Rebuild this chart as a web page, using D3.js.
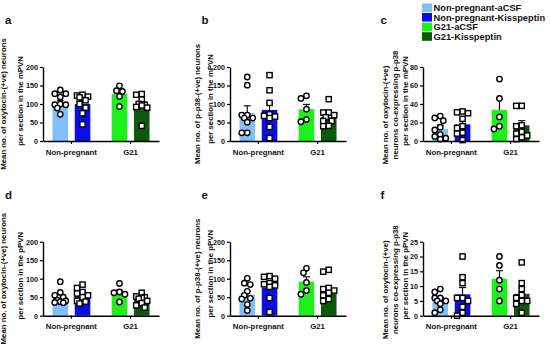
<!DOCTYPE html>
<html>
<head>
<meta charset="utf-8">
<script src="https://cdn.jsdelivr.net/npm/d3@7"></script>
<style>
  body { margin: 0; background: #fff; }
  text { font-family: "Liberation Sans", Arial, sans-serif; font-weight: bold; fill: #111; }
</style>
</head>
<body>
<svg width="550" height="351"></svg>
<script>
// categories
const groups = ["Non-pregnant", "G21"];
const treatments = ["aCSF", "Kisspeptin"];
const seriesNames = ["Non-pregnant-aCSF", "Non-pregnant-Kisspeptin", "G21-aCSF", "G21-Kisspeptin"];
const colors = ["#80c0f8", "#0c0ce8", "#1ef01e", "#0a5a0a"];

// tick labels
const ticks200 = [0, 50, 100, 150, 200];
const ticks80 = [0, 20, 40, 60, 80];
const ticks25 = [0, 5, 10, 15, 20, 25];

// y titles
const titleA = ["Mean no. of oxytocin-(+ve) neurons", "per section in the mPVN"];
const titleB = ["Mean no. of p-p38-(+ve) neurons", "per section in the mPVN"];
const titleC = ["Mean no. of oxytocin-(+ve)", "neurons co-expressing p-p38", "per section in the mPVN"];
const titleD = ["Mean no. of oxytocin-(+ve) neurons", "per section in the pPVN"];
const titleE = ["Mean no. of p-p38-(+ve) neurons", "per section in the pPVN"];
const titleF = ["Mean no. of oxytocin-(+ve)", "neurons co-expressing p-p38", "per section in the pPVN"];

// panel a
const meansA = [103, 100, 127, 98];
const semsA = [7, 9, 9, 9];
const pointsA = [
  [138, 128, 128, 119, 100, 98, 98, 89, 72],
  [125, 123, 120, 118, 110, 100, 90, 75, 45],
  [149, 136, 134, 120, 93],
  [127, 125, 112, 100, 98, 96, 92, 90, 41]
];
// panel b
const meansB = [75, 84, 86, 64];
const semsB = [20, 17, 13, 8];
const pointsB = [
  [173, 151, 70, 70, 62, 62, 51, 22, 22],
  [178, 137, 103, 72, 68, 66, 62, 38, 8],
  [122, 115, 86, 58, 52],
  [113, 77, 77, 70, 64, 54, 54, 41, 40]
];
// panel c
const meansC = [13, 18, 33.5, 17];
const semsC = [4, 6, 12, 5];
const pointsC = [
  [27, 25, 22, 15, 12, 7, 5, 3, 2],
  [32, 31, 30, 24, 16, 14, 9, 8, 1],
  [67, 46, 26, 16, 13],
  [38, 38, 17, 16, 10, 8, 6, 4, 2]
];
// panel d
const meansD = [51, 53, 61, 45];
const semsD = [6, 6, 8, 5];
const pointsD = [
  [92, 63, 55, 50, 42, 40, 38, 36, 35],
  [84, 75, 64, 60, 55, 50, 40, 38, 33],
  [87, 64, 62, 58, 37],
  [62, 52, 50, 48, 46, 40, 34, 28, 22]
];
// panel e
const meansE = [57, 76, 92, 70];
const semsE = [10, 11, 13, 11];
const pointsE = [
  [101, 88, 84, 66, 55, 47, 45, 30, 14],
  [107, 105, 100, 88, 85, 82, 78, 48, 10],
  [128, 116, 90, 68, 58],
  [124, 119, 75, 72, 68, 62, 55, 45, 40]
];
// panel f
const meansF = [5.2, 7.2, 12.5, 7.4];
const semsF = [1, 2.3, 2.7, 2];
const pointsF = [
  [9, 8, 6, 6, 5, 5, 4, 2, 1],
  [20, 13, 11, 6, 6, 5, 3, 1, 0],
  [20, 17, 12, 9, 5],
  [18, 11, 9, 7, 6, 5, 5, 4, 1]
];

const svg = d3.select("svg");
const plotW = 116, plotH = 74;
const colX = [43, 230, 423];
const rowY = [67, 241.7];

const panels = [
  { label: "a", col: 0, row: 0, title: titleA, titleOff: [-40, -23], titleMid: [37, 34], ticks: ticks200, means: meansA, sems: semsA, points: pointsA },
  { label: "b", col: 1, row: 0, title: titleB, titleOff: [-32.5, -19.5], titleMid: [37, 32], ticks: ticks200, means: meansB, sems: semsB, points: pointsB },
  { label: "c", col: 2, row: 0, title: titleC, titleOff: [-37.5, -27.5, -17.5], titleMid: [48, 38, 34], ticks: ticks80, means: meansC, sems: semsC, points: pointsC },
  { label: "d", col: 0, row: 1, title: titleD, titleOff: [-40, -23], titleMid: [37, 34], ticks: ticks200, means: meansD, sems: semsD, points: pointsD },
  { label: "e", col: 1, row: 1, title: titleE, titleOff: [-32.5, -19.5], titleMid: [37, 32], ticks: ticks200, means: meansE, sems: semsE, points: pointsE },
  { label: "f", col: 2, row: 1, title: titleF, titleOff: [-37.5, -27.5, -17.5], titleMid: [48, 38, 34], ticks: ticks25, means: meansF, sems: semsF, points: pointsF }
];

// spread overlapping points sideways within the bar (column scatter)
function spread(values, y) {
  const placed = [];
  const dx = values.map(() => 0);
  const order = values.map((v, i) => i).sort((a, b) => values[b] - values[a]);
  const cands = [0, -3, 3, -5.5, 5.5];
  order.forEach(i => {
    const py = y(values[i]);
    let best = 0, bestD = -1;
    for (const px of cands) {
      const dmin = d3.min(placed, q => Math.hypot(q[0] - px, q[1] - py)) ?? Infinity;
      if (dmin >= 5) { best = px; bestD = dmin; break; }
      if (dmin > bestD) { bestD = dmin; best = px; }
    }
    dx[i] = best;
    placed.push([best, py]);
  });
  return dx;
}

panels.forEach(p => {
  const left = colX[p.col], top = rowY[p.row];

  svg.append("text")
    .attr("x", p.col === 0 ? 5 : (p.col === 1 ? 201.5 : 380.5))
    .attr("y", top - 43)
    .style("font-size", "11.5px")
    .text(p.label);

  const g = svg.append("g").attr("transform", `translate(${left},${top})`);

  const y = d3.scaleLinear().domain([0, d3.max(p.ticks)]).range([plotH, 0]);
  const x = d3.scaleBand().domain(groups).range([0, plotW]).paddingInner(0.36).paddingOuter(0.16);
  const xi = d3.scaleBand().domain(treatments).range([0, x.bandwidth()]).paddingInner(0.3);

  const bars = p.means.map((m, i) => ({
    i, mean: m, sem: p.sems[i], pts: p.points[i],
    cx: x(groups[i >> 1]) + xi(treatments[i & 1]) + xi.bandwidth() / 2
  }));

  g.selectAll("rect.bar").data(bars).enter().append("rect")
    .attr("class", "bar")
    .attr("x", d => d.cx - xi.bandwidth() / 2)
    .attr("width", xi.bandwidth())
    .attr("y", d => y(d.mean))
    .attr("height", d => plotH - y(d.mean))
    .attr("fill", d => colors[d.i]);

  // error bars (mean + SEM)
  const err = g.selectAll("g.err").data(bars).enter().append("g").attr("class", "err")
    .attr("stroke", "#000").attr("stroke-width", 1.1);
  err.append("line")
    .attr("x1", d => d.cx).attr("x2", d => d.cx)
    .attr("y1", d => y(d.mean)).attr("y2", d => y(d.mean + d.sem));
  err.append("line")
    .attr("x1", d => d.cx - 3.5).attr("x2", d => d.cx + 3.5)
    .attr("y1", d => y(d.mean + d.sem)).attr("y2", d => y(d.mean + d.sem));

  // points
  const r = 2.7;
  bars.forEach(b => {
    const dx = spread(b.pts, y);
    const sel = g.selectAll(null).data(b.pts.map((v, k) => ({ v, dx: dx[k] }))).enter();
    if (b.i % 2 === 0) {
      sel.append("circle")
        .attr("cx", d => b.cx + d.dx).attr("cy", d => y(d.v)).attr("r", r)
        .attr("fill", "#fff").attr("stroke", "#000").attr("stroke-width", 1.4);
    } else {
      sel.append("rect")
        .attr("x", d => b.cx + d.dx - 2.6).attr("y", d => y(d.v) - 2.6)
        .attr("width", 5.2).attr("height", 5.2)
        .attr("fill", "#fff").attr("stroke", "#000").attr("stroke-width", 1.4);
    }
  });

  // axes
  const yAxis = g.append("g")
    .call(d3.axisLeft(y).tickValues(p.ticks).tickSize(3).tickSizeOuter(0).tickPadding(2));
  yAxis.selectAll("text").style("font-size", "7.2px");

  const xAxis = g.append("g").attr("transform", `translate(0,${plotH})`)
    .call(d3.axisBottom(x).tickSize(3).tickSizeOuter(0).tickPadding(5));
  xAxis.selectAll("text").style("font-size", "7.8px");

  [yAxis, xAxis].forEach(a => {
    a.select(".domain").attr("stroke-width", 1.4);
    a.selectAll(".tick line").attr("stroke-width", 1.2);
  });

  // y title (rotated lines)
  p.title.forEach((t, k) => {
    svg.append("text")
      .attr("transform", `translate(${left + p.titleOff[k]},${top + p.titleMid[k]}) rotate(-90)`)
      .attr("text-anchor", "middle")
      .attr("dy", "0.35em")
      .style("font-size", "7.8px")
      .text(t);
  });
});

// legend
const legend = svg.append("g").attr("transform", "translate(422,3)");
seriesNames.forEach((s, i) => {
  legend.append("rect")
    .attr("x", 0).attr("y", i * 9.6 + 0.4)
    .attr("width", 10).attr("height", 8.6)
    .attr("fill", colors[i]);
  legend.append("text")
    .attr("x", 11.5).attr("y", i * 9.6 + 8)
    .style("font-size", "9.3px")
    .text(s);
});
</script>
</body>
</html>
